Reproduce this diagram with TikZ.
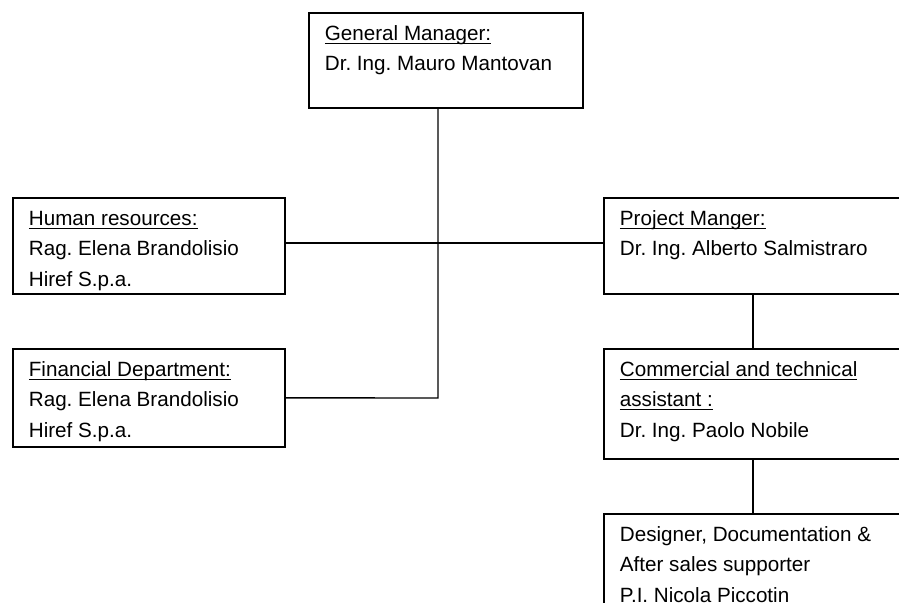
\documentclass[tikz,border=0pt]{standalone}
\usepackage{fontspec}
\setmainfont{Liberation Sans}
\usepackage{tikz}
\usetikzlibrary{calc}
\frenchspacing

\tikzset{
  orgbox/.style={draw, line width=1pt, anchor=north west, inner xsep=0.32cm, inner ysep=0.14cm,
    font=\fontsize{11.75}{17.1}\selectfont},
  orgline/.style={line width=0.8pt}
}
\newcommand{\orgtext}[3]{\parbox[c][#2][t]{#1}{\strut #3}}
\newcommand{\orgul}[1]{\leavevmode\setbox0=\hbox{#1}\rlap{\rule[-1.9pt]{\wd0}{0.6pt}}\box0}

\begin{document}
\begin{tikzpicture}[x=0.02cm, y=-0.02cm]
                \useasboundingbox (0,0) rectangle (899,602);
                \clip (0,0) rectangle (899,602);

                % Boxes
                \node[orgbox] (gm) at (308,12) {\orgtext{4.84cm}{1.62cm}{\orgul{General Manager:}\\Dr. Ing. Mauro Mantovan}};
                \node[orgbox] (hr) at (12,197) {\orgtext{4.80cm}{1.64cm}{\orgul{Human resources:}\\Rag. Elena Brandolisio\\Hiref S.p.a.}};
                \node[orgbox] (fd) at (12,348) {\orgtext{4.80cm}{1.68cm}{\orgul{Financial Department:}\\Rag. Elena Brandolisio\\Hiref S.p.a.}};
                \node[orgbox] (pm) at (603,197) {\orgtext{5.32cm}{1.64cm}{\orgul{Project Manger:}\\Dr. Ing. Alberto Salmistraro}};
                \node[orgbox] (ca) at (603,348) {\orgtext{5.32cm}{1.92cm}{\orgul{Commercial and technical}\\\orgul{assistant :}\\Dr. Ing. Paolo Nobile}};
                \node[orgbox] (ds) at (603,513) {\orgtext{5.32cm}{1.92cm}{Designer, Documentation \&\\After sales supporter\\P.I. Nicola Piccotin}};

                % Connectors
                \coordinate (jn) at (438,398);
                \draw[orgline] (gm.south -| jn) -- (jn) -- (fd.east);
                \draw[orgline] ([yshift=0.06cm]hr.east) -- ([yshift=0.06cm]pm.west);
                \draw[orgline] (pm.south) -- (ca.north);
                \draw[orgline] (ca.south) -- (ds.north);
\end{tikzpicture}
\end{document}
